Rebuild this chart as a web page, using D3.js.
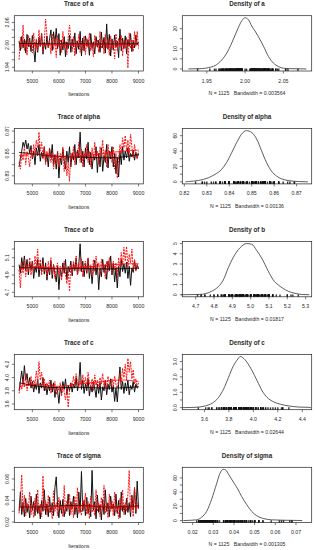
<!DOCTYPE html>
<html><head><meta charset="utf-8">
<script src="https://cdn.jsdelivr.net/npm/d3@7"></script>
<style>
body{margin:0;background:#fff}
svg{display:block}
text{font-family:"Liberation Sans",Arial,sans-serif;fill:#2a2a2a}
</style>
</head><body><svg id="c" width="315" height="550"></svg>
<script>
// ---------------- DATA ----------------
const params = ["a", "alpha", "b", "c", "sigma"];
const iterStart = 4500, iterStep = 50;   // thinned iterations shown in the trace plots
const nIter = 1125;
const bandwidths = ["0.003564", "0.00136", "0.01817", "0.02644", "0.001305"];

// chain 1 (black) and chain 2 (red) traces
const traceA1 = [2.010,1.985,2.022,1.992,2.015,1.978,2.028,1.995,2.018,1.982,
2.025,1.990,1.954,2.012,1.980,2.020,1.996,2.030,1.975,2.008,
1.988,2.024,1.992,2.016,2.040,1.985,2.035,2.002,2.044,1.990,
2.030,1.972,2.012,1.986,2.022,1.968,2.008,1.990,2.026,1.980,
2.015,1.994,2.032,1.976,2.010,1.988,2.036,1.970,2.018,1.984,
2.024,1.996,2.014,1.972,2.030,1.990,2.008,1.976,2.022,1.994,
2.012,1.980,2.034,1.992,2.020,1.978,2.056,1.988,2.028,1.970,
2.016,1.986,2.026,1.994,2.010,1.966,2.042,1.984,2.018,1.990,
2.024,1.976,2.014,1.996,2.030,1.982,2.012,1.992,2.026,2.000,2.008];
const traceA2 = [1.960,2.020,1.990,2.053,1.985,2.012,1.972,2.026,1.994,2.008,
1.978,2.032,1.990,2.016,1.982,2.040,1.995,2.030,1.980,2.010,
2.069,2.024,1.992,2.012,1.976,2.030,1.988,2.018,1.966,2.026,
1.996,2.014,1.980,2.036,1.990,2.008,1.974,2.020,2.053,2.016,
1.982,2.022,1.970,2.012,1.994,2.028,1.980,2.010,1.986,2.024,
1.974,2.018,1.992,2.032,1.984,2.006,1.968,2.026,1.996,2.014,
1.980,2.036,1.990,2.012,1.976,2.028,1.992,2.016,1.972,2.024,
1.988,2.010,1.962,2.030,1.984,2.018,1.994,2.026,1.970,2.012,
1.990,2.020,1.938,2.032,1.990,2.014,1.982,2.036,1.996,2.036,1.990];
const traceAlpha1 = [0.838,0.846,0.852,0.860,0.856,0.862,0.854,0.859,0.850,0.857,
0.845,0.852,0.840,0.855,0.848,0.858,0.843,0.851,0.846,0.856,
0.842,0.850,0.838,0.854,0.846,0.858,0.840,0.849,0.836,0.852,
0.828,0.846,0.840,0.854,0.844,0.836,0.852,0.842,0.856,0.838,
0.850,0.844,0.858,0.840,0.853,0.846,0.869,0.842,0.852,0.838,
0.855,0.845,0.860,0.840,0.851,0.836,0.848,0.844,0.856,0.833,
0.850,0.838,0.855,0.834,0.848,0.842,0.858,0.837,0.852,0.845,
0.856,0.838,0.850,0.832,0.846,0.829,0.852,0.840,0.856,0.844,
0.852,0.846,0.855,0.843,0.850,0.847,0.853,0.844,0.851,0.846,0.850];
const traceAlpha2 = [0.842,0.836,0.850,0.844,0.856,0.840,0.852,0.846,0.838,0.854,
0.846,0.858,0.850,0.862,0.855,0.869,0.852,0.860,0.845,0.856,
0.840,0.852,0.846,0.855,0.842,0.850,0.836,0.848,0.840,0.852,
0.838,0.850,0.844,0.856,0.834,0.848,0.830,0.842,0.825,0.850,
0.845,0.856,0.840,0.852,0.846,0.860,0.842,0.854,0.838,0.850,
0.846,0.858,0.842,0.852,0.838,0.855,0.844,0.860,0.846,0.852,
0.840,0.856,0.848,0.862,0.844,0.853,0.838,0.858,0.846,0.852,
0.842,0.856,0.836,0.850,0.828,0.846,0.858,0.850,0.864,0.855,
0.866,0.852,0.862,0.848,0.867,0.856,0.846,0.858,0.850,0.845,0.852];
const traceB1 = [5.02,4.92,5.10,4.98,5.12,4.95,5.08,4.90,5.05,4.96,
5.06,4.86,5.00,4.93,5.08,4.88,5.03,4.94,5.10,4.91,
5.04,4.84,4.99,4.90,5.06,4.86,5.02,4.92,4.82,5.00,
4.73,4.96,4.88,5.04,4.92,5.08,4.85,5.00,4.94,5.06,
4.89,5.03,4.95,5.10,4.90,5.02,5.26,4.94,5.06,4.88,
5.04,4.92,5.09,4.86,5.00,4.80,4.98,5.07,4.90,5.03,
4.73,4.97,4.88,5.08,4.93,5.02,4.85,5.06,4.95,5.12,
4.90,5.04,4.82,4.98,4.75,5.00,4.88,5.08,4.94,5.03,
4.92,5.05,4.86,5.00,4.78,4.98,4.93,5.06,4.96,5.02,4.97];
const traceB2 = [4.96,4.75,5.04,4.92,5.08,4.88,5.02,4.95,5.10,4.90,
5.06,4.94,5.12,4.98,5.20,4.96,5.08,4.90,5.04,4.94,
5.00,4.88,5.06,4.93,5.10,4.90,5.02,4.86,4.98,5.04,
4.90,5.00,4.84,4.96,5.06,4.90,4.80,4.96,4.71,5.02,
4.92,5.06,4.96,5.12,4.90,5.04,4.94,5.09,4.88,5.00,
5.06,4.92,5.10,4.95,5.02,4.88,5.08,4.94,5.12,4.98,
5.04,4.90,5.08,4.96,5.02,4.86,5.06,4.94,5.10,5.00,
4.92,5.06,4.96,5.04,4.88,5.10,4.98,5.16,5.02,5.22,
5.06,5.23,4.98,5.14,5.04,5.20,4.96,5.08,4.94,5.02,4.98];
const traceC1 = [3.80,3.95,4.10,3.90,4.18,3.96,4.06,3.88,4.00,3.84,
3.94,3.78,3.90,3.82,3.98,3.76,3.92,3.84,4.00,3.80,
3.90,3.74,3.88,3.80,3.96,3.78,3.92,3.70,3.86,3.80,
3.61,3.84,3.76,3.94,3.82,3.98,3.74,3.88,3.80,3.92,
3.78,3.90,3.84,4.00,3.80,3.92,4.23,3.82,3.96,3.76,
3.90,3.80,3.98,3.72,3.88,3.78,3.94,3.84,3.70,3.90,
3.76,3.92,3.66,3.86,3.80,3.96,3.74,3.90,3.82,3.98,
3.78,3.88,3.64,3.84,3.63,3.90,4.16,3.82,3.94,3.76,
3.92,3.80,3.96,3.74,3.88,3.82,3.94,3.78,3.90,3.84,3.86];
const traceC2 = [3.76,3.90,3.82,3.98,3.86,4.06,3.80,3.94,3.88,4.02,
3.84,3.96,3.90,4.10,3.92,4.24,3.96,4.08,3.86,3.98,
3.80,3.92,3.86,3.96,3.76,3.90,3.82,3.94,3.74,3.86,
3.80,3.92,3.72,3.88,3.78,3.66,3.84,3.55,3.80,3.92,
3.86,4.02,3.90,4.06,3.94,3.84,3.98,3.88,4.04,3.90,
4.00,3.86,4.08,3.92,3.84,3.98,3.80,4.04,3.88,3.96,
3.84,4.00,3.90,4.06,3.86,3.96,3.82,4.02,3.92,3.88,
3.98,3.86,4.02,3.90,3.84,3.96,4.06,3.92,4.14,4.00,
4.20,3.96,4.29,4.08,4.24,3.98,4.12,3.90,3.98,3.86,3.92];
const traceSigma1 = [0.030,0.048,0.027,0.038,0.025,0.042,0.029,0.036,0.024,0.044,
0.031,0.039,0.026,0.046,0.028,0.035,0.023,0.040,0.030,0.050,
0.027,0.037,0.025,0.043,0.029,0.038,0.026,0.052,0.062,0.036,
0.024,0.040,0.028,0.041,0.025,0.035,0.030,0.046,0.026,0.039,
0.032,0.044,0.027,0.036,0.024,0.048,0.029,0.067,0.030,0.040,
0.026,0.043,0.028,0.037,0.025,0.068,0.031,0.039,0.023,0.045,
0.029,0.036,0.022,0.041,0.027,0.050,0.030,0.038,0.025,0.044,
0.032,0.037,0.026,0.046,0.028,0.040,0.024,0.048,0.030,0.036,
0.027,0.042,0.029,0.038,0.025,0.045,0.031,0.052,0.028,0.058,0.033];
const traceSigma2 = [0.028,0.040,0.064,0.030,0.045,0.026,0.038,0.032,0.048,0.027,
0.036,0.024,0.042,0.030,0.050,0.028,0.037,0.025,0.063,0.031,
0.040,0.027,0.045,0.029,0.035,0.023,0.049,0.030,0.038,0.026,
0.043,0.031,0.036,0.025,0.054,0.028,0.040,0.032,0.046,0.027,
0.038,0.024,0.044,0.030,0.052,0.028,0.036,0.026,0.041,0.031,
0.047,0.027,0.039,0.023,0.044,0.029,0.036,0.026,0.050,0.030,
0.038,0.025,0.043,0.031,0.054,0.028,0.037,0.024,0.046,0.030,
0.040,0.026,0.048,0.029,0.035,0.023,0.042,0.031,0.050,0.027,
0.038,0.030,0.046,0.068,0.029,0.044,0.025,0.052,0.030,0.038,0.032];

// smoothed (lowess) lines of each chain
const smoothIters = [4500, 5250, 6000, 6750, 7500, 8250, 9000];
const smoothA1 = [2.004, 2.003, 2.002, 2.003, 2.002, 2.002, 2.003];
const smoothA2 = [2.000, 2.001, 2.000, 2.001, 2.000, 2.000, 2.001];
const smoothAlpha1 = [0.851, 0.849, 0.847, 0.847, 0.846, 0.846, 0.849];
const smoothAlpha2 = [0.848, 0.851, 0.846, 0.848, 0.849, 0.852, 0.853];
const smoothB1 = [4.99, 4.98, 4.97, 4.98, 4.97, 4.97, 4.98];
const smoothB2 = [4.97, 5.00, 4.97, 4.99, 5.00, 5.03, 5.03];
const smoothC1 = [3.92, 3.86, 3.84, 3.86, 3.84, 3.84, 3.86];
const smoothC2 = [3.86, 3.92, 3.84, 3.92, 3.92, 3.98, 3.94];
const smoothSigma1 = [0.034, 0.034, 0.035, 0.036, 0.034, 0.034, 0.035];
const smoothSigma2 = [0.035, 0.035, 0.034, 0.035, 0.035, 0.034, 0.034];

// kernel density curves (x, density)
const densXA = [1.926,1.9435,1.9522,1.9609,1.9696,1.9761,1.9826,1.9892,1.9957,2.0,2.0044,2.0087,2.013,2.0174,2.024,2.0305,2.037,2.0435,2.05,2.0566,2.080];
const densYA = [0,0.17,0.67,1.7,4.5,7.9,12.9,18.8,23.9,25.4,24.4,21.3,18.8,16,11.3,6.2,2.9,1.2,0.34,0.17,0];
const densXAlpha = [0.8205,0.8218,0.8262,0.8307,0.8336,0.8366,0.8388,0.8411,0.8433,0.8455,0.8477,0.85,0.8522,0.8544,0.8566,0.8588,0.8611,0.8633,0.8662,0.8707,0.8750];
const densYAlpha = [0,0.4,1.75,5.3,9.6,16.2,25,38,51,62,66.5,64,55.6,40.3,25,14,7.4,3.9,1.75,0.4,0];
const densXB = [4.62,4.723,4.787,4.823,4.851,4.878,4.905,4.942,4.978,5.006,5.033,5.06,5.096,5.123,5.151,5.178,5.205,5.242,5.278,5.32];
const densYB = [0,0.03,0.34,0.78,1.45,2.64,3.65,4.59,5.0,4.93,4.32,3.58,2.3,1.45,0.95,0.61,0.34,0.14,0.03,0];
const densXC = [3.42,3.524,3.606,3.661,3.715,3.756,3.797,3.838,3.874,3.893,3.912,3.948,3.989,4.031,4.072,4.113,4.167,4.222,4.29,4.372,4.455,4.47];
const densYC = [0,0.02,0.11,0.28,0.66,1.2,1.97,2.74,3.17,3.33,3.26,2.95,2.41,1.75,1.09,0.66,0.37,0.22,0.11,0.04,0.02,0];
const densXSigma = [0.0155,0.0219,0.0244,0.0268,0.0292,0.0316,0.0332,0.0348,0.036,0.0376,0.0397,0.0418,0.0437,0.0461,0.0485,0.051,0.0542,0.0582,0.0631,0.0695,0.073];
const densYSigma = [0,1,4.8,13,30,51.8,66.3,72,71,64,54.2,44.5,33.9,22.7,13,6.8,2.9,1,0.5,0.2,0];

// tick values and labels
const iterTicks = [5000, 6000, 7000, 8000, 9000];
const traceYTicks = [[1.94,1.96,1.98,2.00,2.02,2.04,2.06],[0.83,0.84,0.85,0.86,0.87],[4.7,4.8,4.9,5.0,5.1,5.2],[3.6,3.8,4.0,4.2],[0.02,0.03,0.04,0.05,0.06]];
const traceYLabels = [["1.94","","","2.00","","","2.06"],["0.83","","0.85","","0.87"],["4.7","","4.9","","5.1",""],["3.6","3.8","4.0","4.2"],["0.02","","0.04","","0.06"]];
const densXTicks = [[1.95,2.00,2.05],[0.82,0.83,0.84,0.85,0.86,0.87],[4.7,4.8,4.9,5.0,5.1,5.2,5.3],[3.6,3.8,4.0,4.2,4.4],[0.02,0.03,0.04,0.05,0.06,0.07]];
const densXLabels = [["1.95","2.00","2.05"],["0.82","0.83","0.84","0.85","0.86","0.87"],["4.7","4.8","4.9","5.0","5.1","5.2","5.3"],["3.6","3.8","4.0","4.2","4.4"],["0.02","0.03","0.04","0.05","0.06","0.07"]];
const densYTicks = [[0,5,10,15,20],[0,10,20,30,40,50,60],[0,1,2,3,4,5],[0,0.5,1,1.5,2,2.5,3],[0,10,20,30,40,50,60]];
const densYLabels = [["0","5","10","","20"],["0","","20","","40","","60"],["0","1","2","3","4","5"],["0.0","","1.0","","2.0","","3.0"],["0","","20","","40","","60"]];

// ---------------- LAYOUT ----------------
const traceDomains = [[1.930,2.078],[0.8228,0.8722],[4.648,5.287],[3.514,4.35],[0.0195,0.0709]];
const densDomains = [[1.918,2.087],[0.8191,0.8767],[4.627,5.333],[3.419,4.477],[0.0150,0.0776]];
const chains1 = [traceA1, traceAlpha1, traceB1, traceC1, traceSigma1];
const chains2 = [traceA2, traceAlpha2, traceB2, traceC2, traceSigma2];
const smooth1 = [smoothA1, smoothAlpha1, smoothB1, smoothC1, smoothSigma1];
const smooth2 = [smoothA2, smoothAlpha2, smoothB2, smoothC2, smoothSigma2];
const densX = [densXA, densXAlpha, densXB, densXC, densXSigma];
const densY = [densYA, densYAlpha, densYB, densYC, densYSigma];

const svg = d3.select("#c");
const rowStep = 112.9, titleY0 = 4;
const L = {x0: 14.3, x1: 143.3}, R = {x0: 182.3, x1: 311.7};
const fs = 5.2, tfs = 6.3, tick = 2.5;
const ink = "#222";

function frame(g, x0, x1, y0, y1) {
  g.append("rect").attr("x", x0).attr("y", y0).attr("width", x1 - x0).attr("height", y1 - y0)
    .attr("fill", "none").attr("stroke", ink).attr("stroke-width", 0.7);
}
function xAxis(g, scale, ticks, labels, yb, ly) {
  ticks.forEach((v, i) => {
    g.append("line").attr("x1", scale(v)).attr("x2", scale(v)).attr("y1", yb).attr("y2", yb + tick)
      .attr("stroke", ink).attr("stroke-width", 0.6);
    if (labels[i]) g.append("text").attr("x", scale(v)).attr("y", ly).attr("dy", "0.35em")
      .attr("text-anchor", "middle").attr("font-size", fs).text(labels[i]);
  });
}
function yAxis(g, scale, ticks, labels, xl, lx) {
  ticks.forEach((v, i) => {
    g.append("line").attr("x1", xl - tick).attr("x2", xl).attr("y1", scale(v)).attr("y2", scale(v))
      .attr("stroke", ink).attr("stroke-width", 0.6);
    if (labels[i]) g.append("text").attr("transform", `translate(${lx},${scale(v)}) rotate(-90)`)
      .attr("dy", "0.35em").attr("text-anchor", "middle").attr("font-size", fs).text(labels[i]);
  });
}

params.forEach((p, r) => {
  const T = titleY0 + r * rowStep;
  const y0 = T + 11.7, y1 = T + 67;
  const g = svg.append("g");

  // ---- trace panel ----
  const x = d3.scaleLinear().domain([4320, 9180]).range([L.x0, L.x1]);
  const y = d3.scaleLinear().domain(traceDomains[r]).range([y1, y0]);
  const cid = "clip" + r;
  svg.append("clipPath").attr("id", cid).append("rect")
    .attr("x", L.x0).attr("y", y0).attr("width", L.x1 - L.x0).attr("height", y1 - y0);
  const line = d3.line().x((d, i) => x(iterStart + i * iterStep)).y(d => y(d));
  const pg = g.append("g").attr("clip-path", `url(#${cid})`);
  pg.append("path").attr("d", line(chains1[r])).attr("fill", "none").attr("stroke", "#111")
    .attr("stroke-width", 1.0).attr("stroke-linejoin", "bevel");
  pg.append("path").attr("d", line(chains2[r])).attr("fill", "none").attr("stroke", "#ff1010")
    .attr("stroke-width", 1.0).attr("stroke-dasharray", "2,1").attr("stroke-linejoin", "bevel");
  const sl = d3.line().x((d, i) => x(smoothIters[i])).y(d => y(d)).curve(d3.curveBasis);
  pg.append("path").attr("d", sl(smooth1[r])).attr("fill", "none").attr("stroke", "#000").attr("stroke-width", 0.8);
  pg.append("path").attr("d", sl(smooth2[r])).attr("fill", "none").attr("stroke", "#ff0000").attr("stroke-width", 0.8);
  frame(g, L.x0, L.x1, y0, y1);
  xAxis(g, x, iterTicks, iterTicks.map(String), y1, T + 76.7);
  yAxis(g, y, traceYTicks[r], traceYLabels[r], L.x0, L.x0 - 7);
  g.append("text").attr("x", (L.x0 + L.x1) / 2).attr("y", T).attr("dy", "0.35em").attr("text-anchor", "middle")
    .attr("font-size", tfs).attr("font-weight", "bold").text("Trace of " + p);
  g.append("text").attr("x", (L.x0 + L.x1) / 2).attr("y", T + 90.3).attr("dy", "0.35em").attr("text-anchor", "middle")
    .attr("font-size", fs).text("Iterations");

  // ---- density panel ----
  const dx = d3.scaleLinear().domain(densDomains[r]).range([R.x0, R.x1]);
  const M = d3.max(densY[r]);
  const dy = d3.scaleLinear().domain([-0.04 * M, 1.04 * M]).range([y1, y0]);
  const pts = densX[r].map((v, i) => [v, densY[r][i]]);
  const dl = d3.line().x(d => dx(d[0])).y(d => dy(d[1])).curve(d3.curveMonotoneX);
  // rug of all samples
  const rug = chains1[r].concat(chains2[r]);
  g.append("g").selectAll("line").data(rug).join("line")
    .attr("x1", d => dx(d)).attr("x2", d => dx(d)).attr("y1", y1).attr("y2", y1 - 2.4)
    .attr("stroke", "#111").attr("stroke-width", 1.4).attr("stroke-opacity", 0.85);
  g.append("path").attr("d", dl(pts)).attr("fill", "none").attr("stroke", "#333").attr("stroke-width", 0.8);
  frame(g, R.x0, R.x1, y0, y1);
  xAxis(g, dx, densXTicks[r], densXLabels[r], y1, T + 76.7);
  yAxis(g, dy, densYTicks[r], densYLabels[r], R.x0, R.x0 - 7);
  g.append("text").attr("x", (R.x0 + R.x1) / 2).attr("y", T).attr("dy", "0.35em").attr("text-anchor", "middle")
    .attr("font-size", tfs).attr("font-weight", "bold").text("Density of " + p);
  g.append("text").attr("x", (R.x0 + R.x1) / 2).attr("y", T + 89).attr("dy", "0.35em").attr("text-anchor", "middle")
    .attr("font-size", fs).style("white-space", "pre")
    .text("N = " + nIter + "   Bandwidth = " + bandwidths[r]);
});
</script>
</body></html>
